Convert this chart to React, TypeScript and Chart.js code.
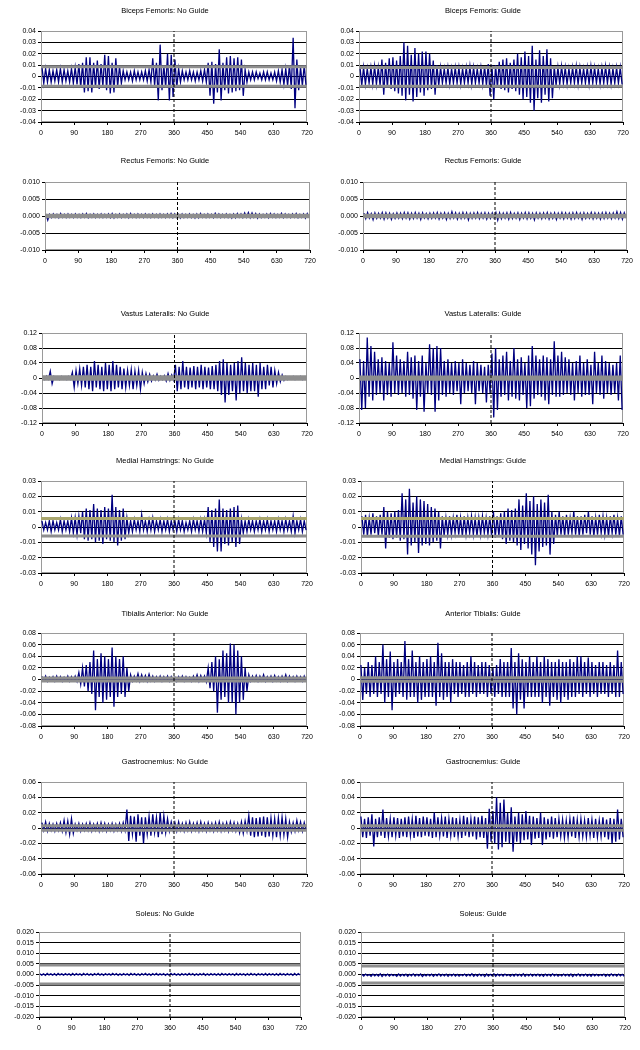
import { useEffect, useRef } from "react";
import { Chart, registerables } from "chart.js";

Chart.register(...registerables);

// ---------- categories ----------
const ANGLE_TICKS = [0, 90, 180, 270, 360, 450, 540, 630, 720];
const BINS = [
  0, 10, 20, 30, 40, 50, 60, 70, 80, 90, 100, 110,
  120, 130, 140, 150, 160, 170, 180, 190, 200, 210, 220, 230,
  240, 250, 260, 270, 280, 290, 300, 310, 320, 330, 340, 350,
  360, 370, 380, 390, 400, 410, 420, 430, 440, 450, 460, 470,
  480, 490, 500, 510, 520, 530, 540, 550, 560, 570, 580, 590,
  600, 610, 620, 630, 640, 650, 660, 670, 680, 690, 700, 710,
];
const MIDLINE = 360;

// ---------- y tick values / labels ----------
const Y_BF = [-0.04, -0.03, -0.02, -0.01, 0, 0.01, 0.02, 0.03, 0.04];
const L_BF = ["-0.04", "-0.03", "-0.02", "-0.01", "0", "0.01", "0.02", "0.03", "0.04"];
const Y_RF = [-0.01, -0.005, 0, 0.005, 0.01];
const L_RF = ["-0.010", "-0.005", "0.000", "0.005", "0.010"];
const Y_VL = [-0.12, -0.08, -0.04, 0, 0.04, 0.08, 0.12];
const L_VL = ["-0.12", "-0.08", "-0.04", "0", "0.04", "0.08", "0.12"];
const Y_MH = [-0.03, -0.02, -0.01, 0, 0.01, 0.02, 0.03];
const L_MH = ["-0.03", "-0.02", "-0.01", "0", "0.01", "0.02", "0.03"];
const Y_TA = [-0.08, -0.06, -0.04, -0.02, 0, 0.02, 0.04, 0.06, 0.08];
const L_TA = ["-0.08", "-0.06", "-0.04", "-0.02", "0", "0.02", "0.04", "0.06", "0.08"];
const Y_GA = [-0.06, -0.04, -0.02, 0, 0.02, 0.04, 0.06];
const L_GA = ["-0.06", "-0.04", "-0.02", "0", "0.02", "0.04", "0.06"];
const Y_SO = [-0.02, -0.015, -0.01, -0.005, 0, 0.005, 0.01, 0.015, 0.02];
const L_SO = ["-0.020", "-0.015", "-0.010", "-0.005", "0.000", "0.005", "0.010", "0.015", "0.020"];

// ---------- signal peaks per 10-degree bin (upper / lower) ----------
const BF_NG_HI = [
  .009, .007, .006, .005, .006, .007, .006, .005, .007, .008, .011, .012,
  .017, .017, .012, .014, .011, .019, .018, .012, .016, .009, .005, .004,
  .004, .005, .004, .004, .005, .006, .016, .012, .028, .010, .020, .019,
  .015, .007, .005, .004, .005, .004, .004, .005, .006, .012, .013, .011,
  .024, .012, .017, .018, .016, .017, .015, .006, .004, .004, .004, .003,
  .004, .004, .003, .004, .005, .006, .007, .010, .034, .015, .008, .010,
];
const BF_NG_LO = [
  -.006, -.005, -.005, -.004, -.005, -.005, -.004, -.005, -.006, -.007, -.010, -.014,
  -.013, -.014, -.010, -.011, -.009, -.012, -.015, -.014, -.009, -.006, -.003, -.003,
  -.004, -.003, -.003, -.003, -.004, -.005, -.008, -.021, -.012, -.010, -.021, -.018,
  -.010, -.005, -.003, -.003, -.003, -.004, -.003, -.004, -.005, -.017, -.024, -.014,
  -.021, -.012, -.015, -.014, -.013, -.012, -.017, -.005, -.003, -.003, -.002, -.003,
  -.003, -.003, -.003, -.004, -.005, -.007, -.008, -.011, -.028, -.012, -.008, -.009,
];
const BF_G_HI = [
  .009, .008, .007, .008, .009, .008, .015, .012, .016, .017, .014, .018,
  .030, .027, .019, .025, .020, .022, .022, .020, .014, .010, .008, .007,
  .008, .007, .008, .008, .007, .008, .009, .008, .007, .008, .009, .011,
  .010, .010, .013, .015, .016, .012, .015, .020, .017, .022, .018, .027,
  .015, .023, .018, .024, .016, .009, .008, .009, .008, .007, .008, .009,
  .008, .007, .008, .009, .008, .007, .008, .009, .008, .007, .008, .008,
];
const BF_G_LO = [
  -.008, -.007, -.006, -.007, -.007, -.008, -.016, -.010, -.011, -.013, -.015, -.017,
  -.021, -.016, -.022, -.018, -.014, -.017, -.012, -.011, -.016, -.008, -.006, -.006,
  -.007, -.006, -.006, -.007, -.006, -.006, -.007, -.006, -.006, -.007, -.008, -.017,
  -.020, -.010, -.011, -.012, -.014, -.011, -.013, -.016, -.020, -.018, -.023, -.030,
  -.019, -.023, -.016, -.022, -.019, -.008, -.007, -.006, -.007, -.006, -.006, -.007,
  -.006, -.006, -.007, -.006, -.006, -.007, -.006, -.006, -.007, -.006, -.006, -.007,
];
const RF_NG_HI = [
  .0006, .0005, .0006, .0005, .0007, .0005, .0006, .0005, .0006, .0005, .0006, .0007,
  .0005, .0006, .0005, .0006, .0005, .0006, .0007, .0005, .0006, .0005, .0006, .0007,
  .0005, .0006, .0005, .0006, .0005, .0006, .0005, .0006, .0005, .0006, .0007, .0006,
  .0005, .0006, .0005, .0006, .0005, .0006, .0007, .0005, .0006, .0005, .0008, .0006,
  .0005, .0006, .0005, .0006, .0007, .0006, .0009, .0010, .0009, .0007, .0006, .0005,
  .0006, .0007, .0006, .0005, .0008, .0006, .0005, .0006, .0007, .0005, .0006, .0007,
];
const RF_NG_LO = [
  -.0012, -.0005, -.0004, -.0005, -.0004, -.0005, -.0004, -.0005, -.0004, -.0005, -.0004, -.0005,
  -.0004, -.0005, -.0004, -.0005, -.0004, -.0005, -.0006, -.0004, -.0005, -.0004, -.0005, -.0004,
  -.0005, -.0004, -.0005, -.0004, -.0005, -.0004, -.0005, -.0004, -.0005, -.0004, -.0005, -.0004,
  -.0006, -.0005, -.0004, -.0005, -.0006, -.0005, -.0004, -.0005, -.0004, -.0005, -.0004, -.0005,
  -.0004, -.0005, -.0006, -.0005, -.0004, -.0005, -.0004, -.0005, -.0004, -.0006, -.0005, -.0004,
  -.0005, -.0004, -.0005, -.0004, -.0005, -.0004, -.0005, -.0004, -.0005, -.0004, -.0006, -.0005,
];
const RF_G_HI = [
  .0008, .0010, .0007, .0009, .0008, .0010, .0009, .0008, .0007, .0009, .0008, .0010,
  .0009, .0008, .0010, .0008, .0009, .0007, .0008, .0009, .0010, .0008, .0009, .0008,
  .0012, .0009, .0008, .0010, .0009, .0008, .0009, .0010, .0008, .0009, .0008, .0009,
  .0010, .0009, .0008, .0009, .0010, .0008, .0009, .0008, .0010, .0009, .0008, .0009,
  .0008, .0009, .0010, .0008, .0009, .0008, .0010, .0009, .0008, .0009, .0010, .0008,
  .0009, .0008, .0010, .0009, .0008, .0009, .0010, .0008, .0009, .0012, .0010, .0009,
];
const RF_G_LO = [
  -.0008, -.0006, -.0011, -.0007, -.0006, -.0009, -.0006, -.0010, -.0007, -.0006, -.0008, -.0006,
  -.0009, -.0007, -.0006, -.0010, -.0006, -.0008, -.0007, -.0006, -.0009, -.0006, -.0010, -.0007,
  -.0006, -.0009, -.0007, -.0006, -.0011, -.0007, -.0006, -.0008, -.0006, -.0009, -.0007, -.0006,
  -.0012, -.0008, -.0006, -.0009, -.0007, -.0006, -.0010, -.0006, -.0008, -.0007, -.0011, -.0006,
  -.0008, -.0006, -.0009, -.0007, -.0010, -.0006, -.0008, -.0006, -.0009, -.0007, -.0006, -.0010,
  -.0007, -.0006, -.0008, -.0006, -.0009, -.0007, -.0006, -.0008, -.0006, -.0007, -.0009, -.0006,
];
const VL_NG_HI = [
  .004, .005, .018, .004, .003, .004, .003, .004, .015, .020, .025, .030,
  .035, .030, .045, .035, .030, .040, .035, .045, .035, .030, .025, .020,
  .022, .018, .020, .015, .012, .010, .006, .010, .005, .006, .012, .008,
  .035, .030, .045, .030, .028, .032, .030, .035, .030, .028, .032, .035,
  .045, .050, .040, .035, .040, .045, .055, .040, .035, .040, .035, .040,
  .030, .035, .030, .020, .015, .008, .004, .003, .004, .003, .004, .003,
];
const VL_NG_LO = [
  -.004, -.003, -.015, -.003, -.004, -.003, -.004, -.003, -.025, -.015, -.020, -.025,
  -.030, -.035, -.025, -.030, -.035, -.030, -.035, -.030, -.025, -.030, -.025, -.020,
  -.030, -.020, -.030, -.015, -.010, -.008, -.005, -.006, -.004, -.008, -.006, -.005,
  -.035, -.030, -.025, -.030, -.025, -.030, -.025, -.030, -.025, -.030, -.030, -.035,
  -.045, -.065, -.045, -.035, -.060, -.040, -.035, -.040, -.035, -.035, -.050, -.030,
  -.030, -.020, -.025, -.015, -.010, -.006, -.004, -.003, -.004, -.003, -.004, -.003,
];
const VL_G_HI = [
  .050, .045, .108, .085, .070, .050, .055, .045, .040, .095, .060, .050,
  .045, .070, .055, .060, .045, .060, .040, .090, .080, .085, .080, .045,
  .050, .040, .045, .040, .050, .040, .035, .045, .040, .035, .030, .035,
  .065, .080, .050, .060, .070, .045, .080, .050, .055, .040, .060, .085,
  .060, .050, .060, .055, .050, .098, .060, .070, .055, .050, .040, .045,
  .060, .040, .050, .035, .070, .040, .060, .045, .040, .035, .040, .060,
];
const VL_G_LO = [
  -.085, -.080, -.050, -.060, -.045, -.040, -.060, -.045, -.050, -.040, -.045, -.040,
  -.050, -.045, -.055, -.085, -.050, -.090, -.040, -.045, -.090, -.060, -.045, -.050,
  -.040, -.045, -.035, -.070, -.040, -.035, -.040, -.070, -.035, -.040, -.065, -.040,
  -.105, -.085, -.050, -.045, -.060, -.050, -.055, -.060, -.045, -.080, -.075, -.055,
  -.045, -.050, -.060, -.070, -.045, -.050, -.050, -.045, -.040, -.045, -.060, -.040,
  -.050, -.045, -.045, -.070, -.040, -.045, -.055, -.040, -.045, -.040, -.060, -.085,
];
const MH_NG_HI = [
  .004, .003, .004, .004, .003, .005, .004, .004, .006, .006, .007, .010,
  .012, .011, .015, .012, .011, .013, .012, .021, .013, .011, .012, .006,
  .004, .005, .004, .008, .004, .005, .006, .004, .005, .004, .005, .004,
  .004, .005, .004, .003, .004, .005, .004, .005, .005, .013, .011, .012,
  .018, .012, .011, .012, .013, .014, .005, .004, .005, .004, .004, .005,
  .004, .005, .004, .004, .005, .004, .005, .004, .007, .004, .005, .004,
];
const MH_NG_LO = [
  -.002, -.002, -.003, -.002, -.002, -.003, -.002, -.003, -.004, -.005, -.004, -.008,
  -.009, -.008, -.010, -.009, -.011, -.008, -.009, -.010, -.012, -.009, -.008, -.004,
  -.003, -.002, -.003, -.002, -.003, -.002, -.003, -.002, -.003, -.002, -.003, -.002,
  -.003, -.002, -.003, -.002, -.003, -.002, -.003, -.003, -.004, -.010, -.013, -.016,
  -.016, -.011, -.012, -.010, -.013, -.011, -.004, -.003, -.002, -.003, -.002, -.003,
  -.002, -.003, -.002, -.003, -.002, -.003, -.002, -.003, -.004, -.002, -.003, -.002,
];
const MH_G_HI = [
  .007, .008, .006, .009, .007, .008, .013, .010, .009, .010, .011, .022,
  .018, .025, .016, .020, .018, .017, .015, .013, .012, .010, .007, .006,
  .007, .006, .008, .006, .007, .006, .007, .006, .006, .007, .006, .007,
  .010, .007, .009, .010, .012, .011, .012, .018, .014, .022, .017, .020,
  .015, .018, .016, .021, .010, .008, .010, .007, .008, .006, .010, .007,
  .007, .008, .010, .007, .006, .008, .007, .006, .007, .008, .006, .007,
];
const MH_G_LO = [
  -.005, -.006, -.005, -.004, -.006, -.005, -.014, -.007, -.008, -.007, -.009, -.008,
  -.018, -.012, -.010, -.017, -.012, -.011, -.012, -.010, -.009, -.014, -.006, -.005,
  -.005, -.004, -.005, -.006, -.005, -.004, -.005, -.006, -.005, -.004, -.005, -.006,
  -.007, -.006, -.008, -.011, -.009, -.010, -.012, -.015, -.011, -.014, -.018, -.025,
  -.016, -.013, -.012, -.018, -.011, -.006, -.005, -.006, -.005, -.004, -.005, -.006,
  -.005, -.004, -.005, -.006, -.005, -.004, -.005, -.006, -.004, -.005, -.006, -.005,
];
const TA_NG_HI = [
  .005, .006, .004, .005, .006, .005, .004, .006, .005, .006, .012, .020,
  .025, .030, .050, .035, .045, .040, .035, .055, .040, .035, .040, .020,
  .008, .006, .010, .008, .007, .009, .006, .005, .006, .005, .006, .005,
  .004, .005, .006, .005, .004, .006, .008, .007, .006, .020, .030, .040,
  .035, .050, .045, .062, .060, .050, .040, .020, .008, .006, .007, .006,
  .008, .005, .006, .007, .005, .006, .008, .006, .005, .006, .005, .006,
];
const TA_NG_LO = [
  -.002, -.003, -.002, -.003, -.002, -.003, -.002, -.003, -.002, -.003, -.008, -.012,
  -.020, -.025, -.053, -.030, -.040, -.035, -.030, -.047, -.030, -.025, -.030, -.020,
  -.003, -.002, -.003, -.002, -.003, -.002, -.003, -.002, -.003, -.002, -.003, -.002,
  -.003, -.002, -.003, -.002, -.003, -.002, -.003, -.002, -.004, -.015, -.020, -.057,
  -.035, -.030, -.040, -.040, -.060, -.040, -.035, -.020, -.003, -.002, -.003, -.002,
  -.003, -.002, -.003, -.002, -.003, -.002, -.003, -.002, -.003, -.002, -.003, -.002,
];
const TA_G_HI = [
  .025, .020, .030, .025, .040, .030, .060, .035, .048, .030, .035, .030,
  .066, .035, .050, .030, .040, .030, .035, .040, .030, .063, .045, .030,
  .030, .035, .030, .030, .025, .030, .040, .030, .025, .030, .030, .025,
  .020, .025, .035, .030, .030, .054, .030, .045, .035, .030, .040, .030,
  .040, .030, .040, .035, .030, .030, .035, .030, .030, .035, .030, .040,
  .040, .030, .038, .030, .025, .030, .030, .025, .030, .025, .050, .030,
];
const TA_G_LO = [
  -.035, -.025, -.030, -.025, -.030, -.025, -.040, -.030, -.053, -.030, -.025, -.030,
  -.035, -.030, -.030, -.040, -.035, -.030, -.030, -.030, -.045, -.030, -.035, -.030,
  -.040, -.025, -.030, -.025, -.030, -.030, -.025, -.030, -.025, -.025, -.030, -.025,
  -.030, -.025, -.030, -.030, -.030, -.050, -.060, -.035, -.050, -.030, -.030, -.030,
  -.030, -.040, -.030, -.045, -.030, -.035, -.040, -.030, -.035, -.030, -.030, -.025,
  -.030, -.025, -.030, -.025, -.030, -.025, -.025, -.030, -.025, -.030, -.030, -.025,
];
const GA_NG_HI = [
  .007, .008, .006, .005, .006, .007, .010, .009, .012, .005, .006, .005,
  .006, .007, .005, .006, .007, .006, .005, .006, .005, .006, .007, .024,
  .016, .015, .018, .014, .014, .015, .018, .014, .020, .016, .012, .008,
  .007, .008, .006, .007, .008, .006, .007, .008, .006, .007, .006, .007,
  .008, .006, .007, .008, .007, .006, .008, .009, .016, .014, .013, .014,
  .015, .014, .013, .012, .013, .014, .012, .008, .007, .010, .008, .007,
];
const GA_NG_LO = [
  -.003, -.004, -.003, -.004, -.003, -.004, -.006, -.008, -.007, -.003, -.004, -.003,
  -.003, -.004, -.003, -.004, -.003, -.004, -.003, -.004, -.003, -.004, -.003, -.017,
  -.008, -.018, -.010, -.020, -.008, -.010, -.006, -.012, -.008, -.006, -.004, -.003,
  -.004, -.003, -.004, -.003, -.004, -.003, -.004, -.003, -.004, -.003, -.004, -.003,
  -.004, -.003, -.004, -.003, -.004, -.006, -.007, -.004, -.010, -.012, -.011, -.010,
  -.012, -.011, -.010, -.012, -.010, -.009, -.012, -.005, -.004, -.003, -.004, -.003,
];
const GA_G_HI = [
  .015, .012, .014, .018, .012, .014, .024, .013, .012, .014, .013, .012,
  .014, .015, .012, .016, .013, .015, .014, .012, .020, .014, .013, .015,
  .012, .014, .013, .011, .016, .014, .012, .015, .014, .016, .013, .025,
  .022, .040, .033, .037, .020, .027, .015, .020, .018, .022, .016, .015,
  .013, .020, .014, .012, .015, .013, .012, .011, .010, .012, .015, .011,
  .012, .010, .013, .011, .012, .010, .014, .011, .013, .012, .024, .012,
];
const GA_G_LO = [
  -.012, -.013, -.010, -.024, -.012, -.010, -.013, -.011, -.012, -.010, -.013, -.011,
  -.012, -.010, -.013, -.011, -.012, -.010, -.011, -.013, -.012, -.010, -.011, -.013,
  -.010, -.012, -.011, -.013, -.010, -.012, -.011, -.015, -.012, -.013, -.027, -.018,
  -.020, -.028, -.025, -.018, -.020, -.031, -.018, -.020, -.016, -.015, -.022, -.014,
  -.013, -.022, -.015, -.012, -.014, -.012, -.011, -.013, -.012, -.011, -.013, -.012,
  -.011, -.012, -.010, -.013, -.012, -.011, -.012, -.015, -.020, -.018, -.015, -.012,
];
const SO_NG_HI = [
  .0004, .0003, .0005, .0003, .0004, .0005, .0003, .0004, .0003, .0005, .0004, .0003,
  .0005, .0004, .0003, .0004, .0005, .0003, .0004, .0003, .0005, .0004, .0003, .0004,
  .0003, .0005, .0004, .0003, .0004, .0005, .0003, .0004, .0005, .0003, .0004, .0003,
  .0005, .0004, .0003, .0004, .0003, .0005, .0004, .0003, .0004, .0005, .0003, .0004,
  .0003, .0004, .0005, .0003, .0004, .0003, .0005, .0004, .0003, .0004, .0005, .0003,
  .0004, .0003, .0005, .0004, .0003, .0004, .0005, .0003, .0004, .0003, .0005, .0004,
];
const SO_NG_LO = [
  -.0003, -.0004, -.0002, -.0003, -.0004, -.0002, -.0003, -.0002, -.0004, -.0003, -.0002, -.0004,
  -.0002, -.0003, -.0004, -.0002, -.0003, -.0004, -.0002, -.0003, -.0002, -.0004, -.0003, -.0002,
  -.0004, -.0002, -.0003, -.0004, -.0002, -.0003, -.0004, -.0002, -.0003, -.0002, -.0004, -.0003,
  -.0002, -.0003, -.0004, -.0002, -.0003, -.0002, -.0004, -.0003, -.0002, -.0004, -.0003, -.0002,
  -.0003, -.0004, -.0002, -.0003, -.0002, -.0004, -.0003, -.0002, -.0004, -.0003, -.0002, -.0004,
  -.0002, -.0003, -.0004, -.0002, -.0003, -.0004, -.0002, -.0003, -.0002, -.0004, -.0003, -.0002,
];
const SO_G_HI = [
  .0001, .0002, .0000, .0002, .0001, .0003, .0001, .0002, .0001, .0000, .0002, .0001,
  .0002, .0001, .0003, .0001, .0002, .0000, .0001, .0002, .0001, .0003, .0001, .0002,
  .0001, .0002, .0001, .0000, .0002, .0001, .0003, .0001, .0002, .0001, .0002, .0001,
  .0003, .0002, .0001, .0002, .0000, .0001, .0002, .0001, .0003, .0001, .0002, .0001,
  .0002, .0001, .0002, .0001, .0003, .0001, .0000, .0002, .0001, .0002, .0001, .0003,
  .0001, .0002, .0001, .0002, .0001, .0000, .0002, .0001, .0003, .0001, .0002, .0001,
];
const SO_G_LO = [
  -.0007, -.0006, -.0008, -.0006, -.0007, -.0009, -.0006, -.0007, -.0006, -.0008, -.0007, -.0006,
  -.0008, -.0006, -.0007, -.0006, -.0009, -.0007, -.0006, -.0008, -.0006, -.0007, -.0006, -.0008,
  -.0006, -.0007, -.0008, -.0006, -.0007, -.0006, -.0008, -.0007, -.0006, -.0009, -.0007, -.0006,
  -.0008, -.0006, -.0007, -.0006, -.0008, -.0007, -.0006, -.0007, -.0008, -.0006, -.0007, -.0006,
  -.0007, -.0008, -.0006, -.0007, -.0006, -.0008, -.0007, -.0006, -.0007, -.0009, -.0006, -.0007,
  -.0006, -.0007, -.0008, -.0006, -.0007, -.0006, -.0008, -.0007, -.0006, -.0007, -.0006, -.0008,
];

// threshold (reference) lines: [upper, lower]
const BF_NG_THR = [0.0085, -0.0085];
const BF_G_THR = [0.008, -0.0085];
const RF_NG_THR = [0.0002, -0.0002];
const RF_G_THR = [0.0002, -0.0002];
const VL_NG_THR = [0.0035, -0.0035];
const VL_G_THR = [0.003, -0.003];
const MH_NG_THR = [0.0055, -0.0058];
const MH_G_THR = [0.0055, -0.006];
const TA_NG_THR = [0.0025, -0.0025];
const TA_G_THR = [0.003, -0.003];
const GA_NG_THR = [0.003, -0.003];
const GA_G_THR = [0.003, -0.003];
const SO_NG_THR = [0.0045, -0.0045];
const SO_G_THR = [0.004, -0.004];

type Panel = {
  title: string;
  hi: number[];
  lo: number[];
  thr: number[];
  yTicks: number[];
  yLabels: string[];
  col: number;
  row: number;
  upperColor?: string;
};

const PANELS: Panel[] = [
  { title: "Biceps Femoris: No Guide", hi: BF_NG_HI, lo: BF_NG_LO, thr: BF_NG_THR, yTicks: Y_BF, yLabels: L_BF, col: 0, row: 0 },
  { title: "Biceps Femoris: Guide", hi: BF_G_HI, lo: BF_G_LO, thr: BF_G_THR, yTicks: Y_BF, yLabels: L_BF, col: 1, row: 0 },
  { title: "Rectus Femoris: No Guide", hi: RF_NG_HI, lo: RF_NG_LO, thr: RF_NG_THR, yTicks: Y_RF, yLabels: L_RF, col: 0, row: 1 },
  { title: "Rectus Femoris: Guide", hi: RF_G_HI, lo: RF_G_LO, thr: RF_G_THR, yTicks: Y_RF, yLabels: L_RF, col: 1, row: 1 },
  { title: "Vastus Lateralis: No Guide", hi: VL_NG_HI, lo: VL_NG_LO, thr: VL_NG_THR, yTicks: Y_VL, yLabels: L_VL, col: 0, row: 2 },
  { title: "Vastus Lateralis: Guide", hi: VL_G_HI, lo: VL_G_LO, thr: VL_G_THR, yTicks: Y_VL, yLabels: L_VL, col: 1, row: 2 },
  { title: "Medial Hamstrings: No Guide", hi: MH_NG_HI, lo: MH_NG_LO, thr: MH_NG_THR, yTicks: Y_MH, yLabels: L_MH, col: 0, row: 3, upperColor: "#a9a66e" },
  { title: "Medial Hamstrings: Guide", hi: MH_G_HI, lo: MH_G_LO, thr: MH_G_THR, yTicks: Y_MH, yLabels: L_MH, col: 1, row: 3, upperColor: "#a9a66e" },
  { title: "Tibialis Anterior: No Guide", hi: TA_NG_HI, lo: TA_NG_LO, thr: TA_NG_THR, yTicks: Y_TA, yLabels: L_TA, col: 0, row: 4 },
  { title: "Anterior Tibialis: Guide", hi: TA_G_HI, lo: TA_G_LO, thr: TA_G_THR, yTicks: Y_TA, yLabels: L_TA, col: 1, row: 4 },
  { title: "Gastrocnemius: No Guide", hi: GA_NG_HI, lo: GA_NG_LO, thr: GA_NG_THR, yTicks: Y_GA, yLabels: L_GA, col: 0, row: 5 },
  { title: "Gastrocnemius: Guide", hi: GA_G_HI, lo: GA_G_LO, thr: GA_G_THR, yTicks: Y_GA, yLabels: L_GA, col: 1, row: 5 },
  { title: "Soleus: No Guide", hi: SO_NG_HI, lo: SO_NG_LO, thr: SO_NG_THR, yTicks: Y_SO, yLabels: L_SO, col: 0, row: 6 },
  { title: "Soleus: Guide", hi: SO_G_HI, lo: SO_G_LO, thr: SO_G_THR, yTicks: Y_SO, yLabels: L_SO, col: 1, row: 6 },
];

// ---------- layout (pixels) ----------
const ROW_BOX = [
  { top: 0, plotTop: 31, plotBottom: 122 },
  { top: 150, plotTop: 32, plotBottom: 100 },
  { top: 303, plotTop: 30, plotBottom: 120 },
  { top: 450, plotTop: 31, plotBottom: 123 },
  { top: 603, plotTop: 30, plotBottom: 123 },
  { top: 751, plotTop: 31, plotBottom: 123 },
  { top: 903, plotTop: 29, plotBottom: 114 },
];
// [plotLeft, plotRight] relative to the column's left edge
const COL_BOX = [
  [[41, 307], [45, 310], [42, 307], [41, 307], [41, 307], [41, 307], [39, 301]],
  [[39, 303], [43, 307], [39, 303], [41, 304], [40, 304], [40, 304], [41, 305]],
];
const TITLE_CX = [165, 163];
const COL_W = 320;
const FONT = "'Liberation Sans', Arial, Helvetica, sans-serif";
const NAVY = "#000080";
const GREY = "#8e8e8e";

function PanelChart({ p }: { p: Panel }) {
  const ref = useRef<HTMLCanvasElement>(null);
  const rb = ROW_BOX[p.row];
  const [pl, pr] = COL_BOX[p.col][p.row];
  const H = rb.plotBottom + 20;

  useEffect(() => {
    const canvas = ref.current;
    if (!canvas) return;
    const yMin = p.yTicks[0];
    const yMax = p.yTicks[p.yTicks.length - 1];
    const signal: { x: number; y: number }[] = [];
    BINS.forEach((b, i) => {
      signal.push({ x: b + 2.5, y: p.hi[i] });
      signal.push({ x: b + 7.5, y: p.lo[i] });
    });
    const frame = {
      id: "frame",
      beforeDatasetsDraw(chart: any) {
        const a = chart.chartArea;
        const ctx = chart.ctx;
        ctx.save();
        ctx.strokeStyle = "#9a9a9a";
        ctx.lineWidth = 1;
        ctx.strokeRect(a.left + 0.5, a.top + 0.5, a.right - a.left - 1, a.bottom - a.top - 1);
        ctx.restore();
      },
    };
    const chart = new Chart(canvas, {
      type: "line",
      data: {
        datasets: [
          {
            data: [{ x: MIDLINE, y: yMin }, { x: MIDLINE, y: yMax }],
            borderColor: "#000",
            borderWidth: 1,
            borderDash: [3, 2],
            pointRadius: 0,
            order: 1,
          },
          {
            data: [{ x: 0, y: p.thr[0] }, { x: 720, y: p.thr[0] }],
            borderColor: p.upperColor || GREY,
            borderWidth: 3,
            pointRadius: 0,
            order: 2,
          },
          {
            data: [{ x: 0, y: p.thr[1] }, { x: 720, y: p.thr[1] }],
            borderColor: GREY,
            borderWidth: 3,
            pointRadius: 0,
            order: 2,
          },
          {
            data: signal,
            borderColor: NAVY,
            borderWidth: 1.3,
            pointRadius: 0,
            tension: 0,
            order: 3,
          },
        ],
      },
      options: {
        animation: false,
        responsive: false,
        maintainAspectRatio: false,
        events: [],
        layout: { padding: { left: 0, right: COL_W - pr, top: rb.plotTop, bottom: 4 } },
        plugins: {
          legend: { display: false },
          tooltip: { enabled: false },
          title: { display: false },
        },
        scales: {
          x: {
            type: "linear",
            min: 0,
            max: 720,
            afterBuildTicks: (s: any) => {
              s.ticks = ANGLE_TICKS.map((v) => ({ value: v }));
            },
            afterFit: (s: any) => {
              s.height = 16;
            },
            ticks: { color: "#000", font: { family: FONT, size: 7 }, padding: 4, maxRotation: 0, autoSkip: false },
            grid: { drawOnChartArea: false, drawTicks: true, tickLength: 3, color: "#000" },
            border: { color: "#000" },
          },
          y: {
            type: "linear",
            min: yMin,
            max: yMax,
            afterBuildTicks: (s: any) => {
              s.ticks = p.yTicks.map((v) => ({ value: v }));
            },
            afterFit: (s: any) => {
              s.width = pl;
            },
            ticks: {
              color: "#000",
              font: { family: FONT, size: 7 },
              padding: 2,
              autoSkip: false,
              callback: (_v: any, i: number) => p.yLabels[i],
            },
            grid: { color: "#000", lineWidth: 1, tickLength: 3 },
            border: { color: "#000" },
          },
        },
      } as any,
      plugins: [frame],
    });
    return () => chart.destroy();
  }, []);

  const cx = TITLE_CX[p.col];
  return (
    <div style={{ position: "absolute", left: p.col * COL_W, top: rb.top, width: COL_W, height: H }}>
      <div
        style={{
          position: "absolute",
          left: cx - 100,
          top: 6,
          width: 200,
          textAlign: "center",
          fontFamily: FONT,
          fontSize: "7.5px",
          lineHeight: "10px",
          color: "#000",
          whiteSpace: "nowrap",
        }}
      >
        {p.title}
      </div>
      <canvas ref={ref} width={COL_W} height={H} style={{ width: COL_W, height: H, display: "block" }} />
    </div>
  );
}

export default function App() {
  return (
    <div style={{ position: "absolute", left: 0, top: 0, width: 640, height: 1050, background: "#fff" }}>
      {PANELS.map((p) => (
        <PanelChart key={p.title} p={p} />
      ))}
    </div>
  );
}
